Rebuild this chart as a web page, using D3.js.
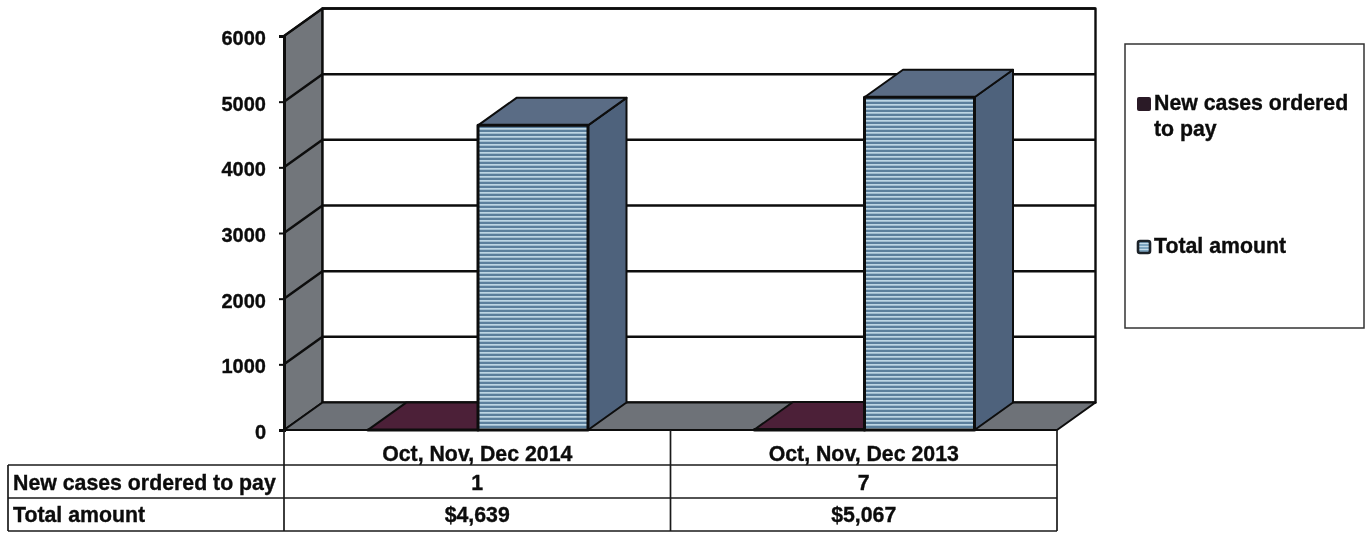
<!DOCTYPE html>
<html><head><meta charset="utf-8">
<script src="https://d3js.org/d3.v7.min.js"></script>
<style>html,body{margin:0;padding:0;background:#fff}svg{display:block;filter:blur(0.4px)}text{font-family:"Liberation Sans",Arial,sans-serif;font-weight:700;fill:#0c0c0c;stroke:#0c0c0c;stroke-width:0.35px;font-size:21.3px}</style>
</head><body><svg id="c" width="1369" height="533"></svg>
<script>
const categories = ["Oct, Nov, Dec 2014", "Oct, Nov, Dec 2013"];
const seriesNames = ["New cases ordered to pay", "Total amount"];
const newCases = [1, 7];
const totalAmount = [4639, 5067];
const totalLabels = ["$4,639", "$5,067"];
const yTicks = [0, 1000, 2000, 3000, 4000, 5000, 6000];

const svg = d3.select("#c");
const dx = 38.5, dy = -27.5;
const y = d3.scaleLinear().domain([0, 6000]).range([430, 36]);
const x0 = d3.scaleBand().domain(categories).range([284, 1057]);
const x1 = d3.scaleBand().domain(seriesNames).range([84, 304]);
const ink = "#0d0d0d";
const poly = (pts, fill, sw = 2) => svg.append("polygon")
  .attr("points", pts.map(p => p.join(",")).join(" "))
  .attr("fill", fill).attr("stroke", ink).attr("stroke-width", sw).attr("stroke-linejoin", "round");

const defs = svg.append("defs");
const pat = defs.append("pattern").attr("id", "hatch").attr("patternUnits", "userSpaceOnUse").attr("width", 6).attr("height", 4);
pat.append("rect").attr("width", 6).attr("height", 4).attr("fill", "#5b7f9c");
pat.append("rect").attr("width", 6).attr("height", 1.7).attr("fill", "#bdd6e4");
const lp = defs.append("pattern").attr("id", "hatchL").attr("patternUnits", "userSpaceOnUse").attr("width", 3).attr("height", 3);
lp.append("rect").attr("width", 3).attr("height", 3).attr("fill", "#7ea6c0");
lp.append("rect").attr("width", 3).attr("height", 1).attr("fill", "#c3dae8");

const [xL, xR] = x0.range();
const [y0, yTop] = y.range();
const f = d3.format("");

// walls
poly([[xL, yTop], [xL + dx, yTop + dy], [xL + dx, y0 + dy], [xL, y0]], "#72767b");
poly([[xL + dx, yTop + dy], [xR + dx, yTop + dy], [xR + dx, y0 + dy], [xL + dx, y0 + dy]], "#fff", 2.4);
// floor
poly([[xL, y0], [xR, y0], [xR + dx, y0 + dy], [xL + dx, y0 + dy]], "#6e7278");

// gridlines
svg.append("g").selectAll("path").data(yTicks.slice(1)).join("path")
  .attr("fill", "none").attr("stroke", ink).attr("stroke-width", 2.5)
  .attr("d", v => `M${xL},${y(v)}L${xL + dx},${y(v) + dy}L${xR + dx},${y(v) + dy}`);

// bars
function bar3d(cat, name, v, front, top, side) {
  const a = x0(cat) + x1(name), b = a + x1.bandwidth(), t = y(v);
  poly([[b, t], [b + dx, t + dy], [b + dx, y0 + dy], [b, y0]], side);
  poly([[a, t], [a + dx, t + dy], [b + dx, t + dy], [b, t]], top);
  poly([[a, t], [b, t], [b, y0], [a, y0]], front, 3);
}
categories.forEach((c, i) => {
  bar3d(c, seriesNames[0], newCases[i], "#3f1a30", "#4c2038", "#3a1a2c");
  bar3d(c, seriesNames[1], totalAmount[i], "url(#hatch)", "#5a6c85", "#4e627c");
});

// y axis
const axis = d3.axisLeft(y).tickValues(yTicks).tickFormat(f).tickSize(5).tickPadding(13);
const gy = svg.append("g").attr("transform", `translate(${xL},0)`).call(axis);
gy.select(".domain").attr("stroke", ink).attr("stroke-width", 3);
gy.selectAll(".tick line").attr("stroke", ink).attr("stroke-width", 2);
gy.selectAll("text").attr("dy", "0.42em").style("font-size", "20px").style("font-family", '"Liberation Sans",Arial,sans-serif');

// data table
const rowY = [430, 465, 498, 531];
const tLeft = 8;
const tbl = svg.append("g").attr("stroke", "#1a1a1a").attr("stroke-width", 1.7);
const hline = (a, b, yy) => tbl.append("line").attr("x1", a).attr("x2", b).attr("y1", yy).attr("y2", yy);
const vline = (xx, a, b) => tbl.append("line").attr("x1", xx).attr("x2", xx).attr("y1", a).attr("y2", b);
hline(tLeft, xR, rowY[1]); hline(tLeft, xR, rowY[2]); hline(tLeft, xR, rowY[3]);
vline(tLeft, rowY[1], rowY[3]);
[xL, x0(categories[1]), xR].forEach(xx => vline(xx, rowY[0], rowY[3]));

const cx = c => x0(c) + x0.bandwidth() / 2;
const cell = (xx, yy, t, anchor) => svg.append("text").attr("x", xx).attr("y", yy).attr("text-anchor", anchor).text(t);
categories.forEach((c, i) => {
  cell(cx(c), 461, c, "middle");
  cell(cx(c), 490, newCases[i], "middle");
  cell(cx(c), 522, totalLabels[i], "middle");
});
cell(13, 490, seriesNames[0], "start");
cell(13, 522, seriesNames[1], "start");

// legend
svg.append("rect").attr("x", 1125).attr("y", 44).attr("width", 239).attr("height", 284)
  .attr("fill", "#fff").attr("stroke", "#333").attr("stroke-width", 1.5);
svg.append("rect").attr("x", 1137).attr("y", 97).attr("width", 14).attr("height", 14).attr("rx", 2).attr("fill", "#2a1a26");
svg.append("rect").attr("x", 1138).attr("y", 241).attr("width", 12).attr("height", 12).attr("rx", 2)
  .attr("fill", "url(#hatchL)").attr("stroke", "#1c2228").attr("stroke-width", 2.6);
cell(1154, 110, "New cases ordered", "start");
cell(1154, 136, "to pay", "start");
cell(1154, 253, seriesNames[1], "start");
</script></body></html>
